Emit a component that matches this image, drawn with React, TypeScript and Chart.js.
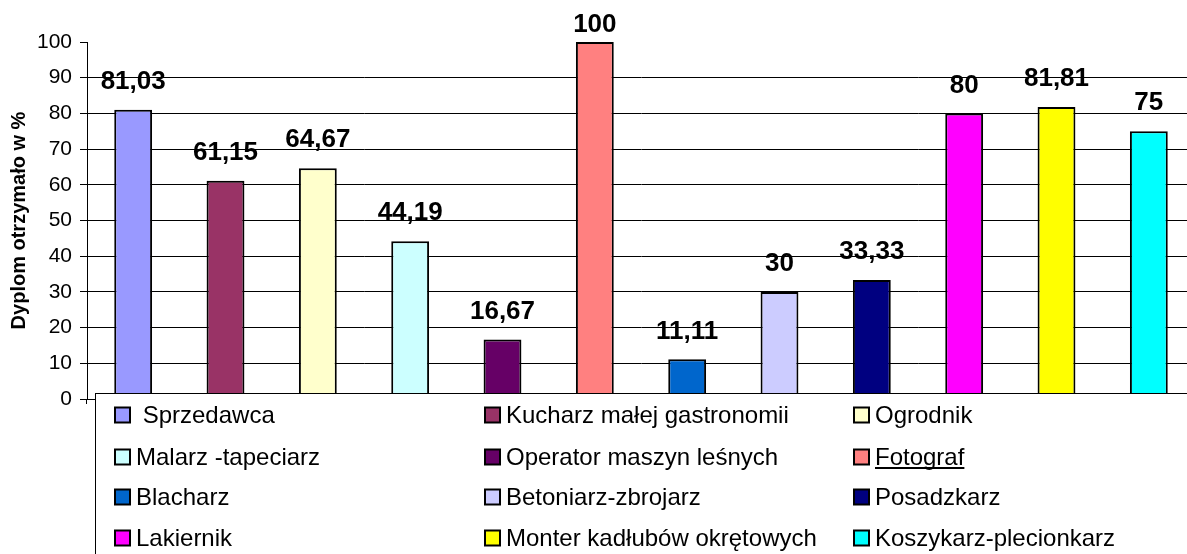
import { useEffect, useRef } from 'react';
import { Chart, registerables } from 'chart.js';

Chart.register(...registerables);

const categories = [
  ' Sprzedawca',
  'Kucharz małej gastronomii',
  'Ogrodnik',
  'Malarz -tapeciarz',
  'Operator maszyn leśnych',
  'Fotograf',
  'Blacharz',
  'Betoniarz-zbrojarz',
  'Posadzkarz',
  'Lakiernik',
  'Monter kadłubów okrętowych',
  'Koszykarz-plecionkarz',
];
const values = [81.03, 61.15, 64.67, 44.19, 16.67, 100, 11.11, 30, 33.33, 80, 81.81, 75];
const colors = [
  '#9999FF', '#993366', '#FFFFCC', '#CCFFFF', '#660066', '#FF8080',
  '#0066CC', '#CCCCFF', '#000080', '#FF00FF', '#FFFF00', '#00FFFF',
];
const yMin = 0;
const yMax = 100;
const yStep = 10;
const yTitle = 'Dyplom otrzymało w %';
const underlinedLabels = ['Fotograf'];

const FONT = '"Liberation Sans", Arial, sans-serif';

const fmt = (v: number) => String(v).replace('.', ',');

const labelPlugin = {
  id: 'valueLabels',
  afterDatasetsDraw(chart: any) {
    const ctx = chart.ctx;
    const meta = chart.getDatasetMeta(0);
    ctx.save();
    ctx.font = `bold 26px ${FONT}`;
    ctx.fillStyle = '#000';
    ctx.textAlign = 'center';
    ctx.textBaseline = 'middle';
    meta.data.forEach((bar: any, i: number) => {
      const y = Math.max(bar.y - 28, 25);
      ctx.fillText(fmt(values[i]), bar.x, y);
    });
    ctx.restore();
  },
};

const legendPlugin = {
  id: 'gridLegend',
  afterDraw(chart: any) {
    const ctx = chart.ctx;
    ctx.save();
    ctx.fillStyle = '#fff';
    ctx.fillRect(95.5, 393.5, 1200, 200);
    ctx.strokeStyle = '#000';
    ctx.lineWidth = 1;
    ctx.strokeRect(95.5, 393.5, 1200, 200);
    const cols = [114, 484, 853];
    const rows = [415, 457, 497, 538];
    ctx.font = `24px ${FONT}`;
    ctx.textBaseline = 'middle';
    ctx.textAlign = 'left';
    categories.forEach((name, i) => {
      const x = cols[i % 3];
      const y = rows[Math.floor(i / 3)];
      ctx.fillStyle = colors[i];
      ctx.fillRect(x + 1, y - 7.5, 15, 15);
      ctx.strokeStyle = '#000';
      ctx.lineWidth = 2;
      ctx.strokeRect(x + 1, y - 7.5, 15, 15);
      ctx.fillStyle = '#000';
      ctx.fillText(name, x + 22, y + 1);
      if (underlinedLabels.includes(name)) {
        const w = ctx.measureText(name).width;
        ctx.fillRect(x + 22, y + 10, w, 2);
      }
    });
    ctx.restore();
  },
};

export default function App() {
  const ref = useRef<HTMLCanvasElement | null>(null);
  useEffect(() => {
    if (!ref.current) return;
    const chart = new Chart(ref.current, {
      type: 'bar',
      data: {
        labels: categories,
        datasets: [
          {
            data: values,
            backgroundColor: colors,
            borderColor: '#000',
            borderWidth: 2,
            barPercentage: 0.41,
            categoryPercentage: 1,
          },
        ],
      },
      options: {
        responsive: false,
        animation: false,
        devicePixelRatio: 1,
        layout: { padding: { top: 42, right: 5, bottom: 155, left: 0 } },
        plugins: {
          legend: { display: false },
          tooltip: { enabled: false },
        },
        scales: {
          x: {
            display: true,
            grid: { display: true, drawOnChartArea: false, drawTicks: true, tickLength: 5, color: '#000' },
            border: { display: false },
            ticks: { display: false },
            afterFit: (s: any) => {
              s.height = 0;
            },
          },
          y: {
            min: yMin,
            max: yMax,
            ticks: {
              stepSize: yStep,
              color: '#000',
              padding: 8,
              font: { family: FONT, size: 21 },
            },
            grid: {
              color: (c: any) => (c.tick && c.tick.value === yMax ? 'rgba(0,0,0,0)' : '#000'),
              tickColor: '#000',
              tickLength: 7,
              lineWidth: 1,
            },
            border: { display: true, color: '#000', width: 1 },
            title: {
              display: true,
              text: yTitle,
              color: '#000',
              font: { family: FONT, size: 20, weight: 'bold' },
              padding: { top: 7, bottom: 0 },
            },
            afterFit: (s: any) => {
              s.width = 87;
            },
          },
        },
      } as any,
      plugins: [labelPlugin, legendPlugin],
    });
    return () => chart.destroy();
  }, []);
  return (
    <div
      style={{
        position: 'fixed',
        left: 0,
        top: 0,
        width: 1187,
        height: 554,
        overflow: 'hidden',
        background: '#fff',
      }}
    >
      <canvas ref={ref} width={1200} height={554} style={{ display: 'block' }} />
    </div>
  );
}
